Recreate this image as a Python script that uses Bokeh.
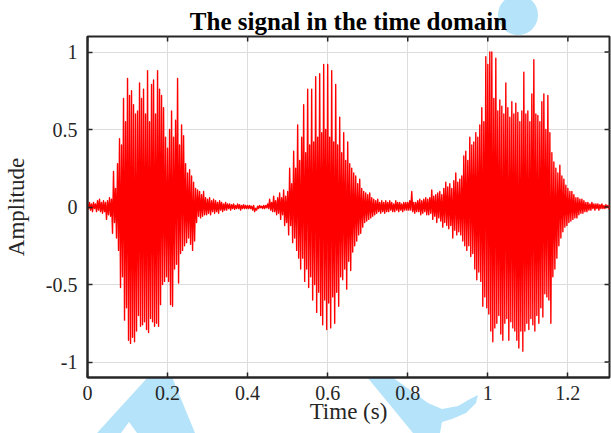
from urllib.parse import quote
from bokeh.plotting import figure
from bokeh.models import Range1d, FixedTicker, InlineStyleSheet
from bokeh.embed import file_html
from bokeh.resources import INLINE

# sample spacing (s) of the envelope readings
STEP = 0.005

# local maxima, one per STEP, starting at t = 0
UPPER = [
    0.02, 0.03, 0.02, 0.03, 0.02, 0.04, 0.05, 0.03, 0.04, 0.03,
    0.04, 0.06, 0.05, 0.23, 0.12, 0.28, 0.44, 0.40, 0.70, 0.55,
    0.83, 0.72, 0.75, 0.66, 0.60, 0.62, 0.80, 0.70, 0.76, 0.60,
    0.88, 0.55, 0.79, 0.82, 0.60, 0.88, 0.76, 0.72, 0.64, 0.45,
    0.38, 0.50, 0.62, 0.45, 0.56, 0.83, 0.40, 0.53, 0.46, 0.28,
    0.22, 0.24, 0.20, 0.16, 0.12, 0.11, 0.10, 0.08, 0.10, 0.06,
    0.05, 0.06, 0.04, 0.05, 0.04, 0.03, 0.04, 0.03, 0.02, 0.03,
    0.02, 0.02, 0.015, 0.02, 0.01, 0.02, 0.015, 0.01, 0.015, 0.01,
    0.01, 0.01, 0.005, 0.01, -0.01, 0.005, 0.01, 0.005, 0.01, 0.01,
    0.02, 0.05, 0.03, 0.07, 0.04, 0.06, 0.09, 0.06, 0.11, 0.07,
    0.10, 0.25, 0.15, 0.36, 0.25, 0.53, 0.30, 0.45, 0.66, 0.35,
    0.76, 0.40, 0.76, 0.42, 0.84, 0.45, 0.86, 0.48, 0.92, 0.50,
    0.92, 0.45, 0.88, 0.42, 0.79, 0.40, 0.58, 0.35, 0.48, 0.30,
    0.42, 0.28, 0.25, 0.22, 0.20, 0.15, 0.18, 0.12, 0.10, 0.09,
    0.08, 0.09, 0.06, 0.05, 0.04, 0.05, 0.03, 0.04, 0.03, 0.04,
    0.03, 0.04, 0.03, 0.02, 0.04, 0.03, 0.03, 0.02, 0.03, 0.03,
    0.03, 0.04, 0.10, 0.03, 0.03, 0.04, 0.05, 0.04, 0.05, 0.06,
    0.05, 0.06, 0.11, 0.07, 0.08, 0.09, 0.10, 0.08, 0.12, 0.16,
    0.13, 0.15, 0.12, 0.17, 0.22, 0.16, 0.18, 0.20, 0.33, 0.36,
    0.30, 0.45, 0.40, 0.42, 0.48, 0.45, 0.53, 0.64, 0.55, 0.97,
    0.92, 1.00, 1.00, 0.70, 0.96, 0.62, 0.69, 0.65, 0.60, 0.80,
    0.64, 0.58, 0.68, 0.60, 0.67, 0.61, 0.55, 0.62, 0.87, 0.60,
    0.62, 0.55, 0.73, 0.95, 0.60, 0.59, 0.55, 0.68, 0.73, 0.50,
    0.72, 0.48, 0.35, 0.29, 0.25, 0.22, 0.27, 0.20, 0.18, 0.14,
    0.12, 0.10, 0.10, 0.08, 0.06, 0.06, 0.05, 0.05, 0.04, 0.03,
    0.03, 0.02, 0.03, 0.02, 0.02, 0.02, 0.015, 0.02, 0.01, 0.015,
    0.01, 0.01,
]

# local minima, half a STEP after each maximum
LOWER = [
    -0.01, -0.02, -0.03, -0.01, -0.03, -0.02, -0.03, -0.04, -0.03, -0.08,
    -0.05, -0.06, -0.17, -0.10, -0.20, -0.28, -0.52, -0.45, -0.73, -0.65,
    -0.86, -0.88, -0.84, -0.87, -0.80, -0.70, -0.77, -0.76, -0.74, -0.79,
    -0.81, -0.72, -0.74, -0.77, -0.75, -0.77, -0.63, -0.50, -0.48, -0.45,
    -0.48, -0.63, -0.64, -0.40, -0.37, -0.49, -0.30, -0.28, -0.25, -0.23,
    -0.20, -0.24, -0.28, -0.22, -0.10, -0.06, -0.07, -0.06, -0.05, -0.05,
    -0.04, -0.05, -0.03, -0.04, -0.03, -0.04, -0.02, -0.03, -0.02, -0.02,
    -0.01, -0.02, -0.01, -0.015, -0.01, -0.01, -0.02, -0.01, -0.01, -0.01,
    -0.01, -0.01, -0.02, -0.03, -0.02, -0.01, -0.005, -0.01, -0.01, -0.005,
    -0.01, -0.02, -0.03, -0.03, -0.05, -0.04, -0.08, -0.05, -0.12, -0.10,
    -0.18, -0.12, -0.23, -0.20, -0.28, -0.33, -0.40, -0.33, -0.48, -0.40,
    -0.52, -0.45, -0.60, -0.50, -0.68, -0.55, -0.70, -0.76, -0.60, -0.79,
    -0.62, -0.78, -0.58, -0.75, -0.55, -0.64, -0.45, -0.47, -0.40, -0.53,
    -0.35, -0.41, -0.29, -0.25, -0.22, -0.18, -0.17, -0.13, -0.10, -0.09,
    -0.08, -0.07, -0.06, -0.05, -0.04, -0.03, -0.04, -0.03, -0.04, -0.03,
    -0.03, -0.02, -0.03, -0.03, -0.02, -0.03, -0.02, -0.03, -0.02, -0.02,
    -0.02, -0.02, -0.03, -0.04, -0.03, -0.03, -0.05, -0.04, -0.03, -0.05,
    -0.05, -0.04, -0.08, -0.06, -0.10, -0.07, -0.09, -0.13, -0.10, -0.12,
    -0.14, -0.12, -0.20, -0.15, -0.18, -0.16, -0.18, -0.22, -0.25, -0.28,
    -0.25, -0.32, -0.30, -0.40, -0.47, -0.42, -0.48, -0.64, -0.58, -0.65,
    -0.69, -0.80, -0.87, -0.78, -0.75, -0.70, -0.82, -0.86, -0.75, -0.72,
    -0.86, -0.74, -0.78, -0.80, -0.86, -0.91, -0.80, -0.93, -0.80, -0.75,
    -0.79, -0.72, -0.76, -0.80, -0.70, -0.75, -0.65, -0.71, -0.56, -0.58,
    -0.60, -0.75, -0.45, -0.40, -0.33, -0.25, -0.20, -0.16, -0.13, -0.12,
    -0.10, -0.09, -0.08, -0.07, -0.07, -0.05, -0.04, -0.04, -0.03, -0.03,
    -0.02, -0.02, -0.01, -0.02, -0.01, -0.02, -0.01, -0.01, -0.01, -0.005,
    -0.01, -0.005,
]

X_TICKS = [0, 0.2, 0.4, 0.6, 0.8, 1.0, 1.2]
X_LABELS = ["0", "0.2", "0.4", "0.6", "0.8", "1", "1.2"]
Y_TICKS = [-1, -0.5, 0, 0.5, 1]
Y_LABELS = ["-1", "-0.5", "0", "0.5", "1"]
X_MAX = 1.304
Y_LIM = 1.1

TITLE = "The signal in the time domain"
X_TITLE = "Time (s)"
Y_TITLE = "Amplitude"

# interleave maxima and minima into one trace
ts, ys = [], []
for i, (u, l) in enumerate(zip(UPPER, LOWER)):
    ts.append(i * STEP)
    ys.append(u)
    ts.append(i * STEP + STEP / 2)
    ys.append(l)

FONT = "Liberation Serif"
DARK = "#262626"
W, H = 611, 433
ML, MR, MT, MB = 82, 2, 36, 56

p = figure(width=W, height=H, output_backend="svg", toolbar_location=None,
           x_range=Range1d(0, X_MAX), y_range=Range1d(-Y_LIM, Y_LIM),
           min_border_left=ML, min_border_right=MR, min_border_top=MT,
           min_border_bottom=MB)

p.title.text = TITLE
p.title.align = "center"
p.title.text_font = FONT
p.title.text_font_size = "25px"
p.title.text_font_style = "bold"
p.title.text_color = "black"
p.title.standoff = 4
p.title.offset = 0

p.background_fill_color = "white"
p.border_fill_color = None
p.outline_line_color = DARK
p.outline_line_width = 2

def style_axis(ax, ticks, labels):
    ax.ticker = FixedTicker(ticks=ticks)
    ax.major_label_overrides = {t: s for t, s in zip(ticks, labels)}
    ax.major_tick_in = 5
    ax.major_tick_out = 0
    ax.minor_tick_line_color = None
    ax.major_tick_line_color = DARK
    ax.major_tick_line_width = 1.5
    ax.axis_line_color = DARK
    ax.axis_line_width = 2
    ax.major_label_text_font = FONT
    ax.major_label_text_font_size = "20px"
    ax.major_label_text_color = DARK
    ax.axis_label_text_font = FONT
    ax.axis_label_text_font_size = "23px"
    ax.axis_label_text_font_style = "normal"
    ax.axis_label_text_color = DARK

xa, ya = p.xaxis[0], p.yaxis[0]
style_axis(xa, X_TICKS, X_LABELS)
style_axis(ya, Y_TICKS, Y_LABELS)
xa.major_label_standoff = 8
ya.major_label_standoff = 10
xa.axis_label = X_TITLE
xa.axis_label_standoff = -4
ya.axis_label = Y_TITLE
ya.axis_label_standoff = 14

p.xgrid.ticker = FixedTicker(ticks=X_TICKS)
p.ygrid.ticker = FixedTicker(ticks=Y_TICKS)
p.grid.grid_line_color = "#dcdcdc"
p.grid.grid_line_width = 1

p.line(ts, ys, line_color="#ff0000", line_width=1.4, line_join="round")

# inward ticks on the top and right edges of the box (5 px long)
frame_w = W - ML - MR
frame_h = H - MT - MB
dx = 5 * X_MAX / frame_w
dy = 5 * 2 * Y_LIM / frame_h
p.segment(x0=X_TICKS, x1=X_TICKS, y0=[Y_LIM] * len(X_TICKS),
          y1=[Y_LIM - dy] * len(X_TICKS), line_color=DARK, line_width=1.5)
p.segment(x0=[X_MAX] * len(Y_TICKS), x1=[X_MAX - dx] * len(Y_TICKS),
          y0=Y_TICKS, y1=Y_TICKS, line_color=DARK, line_width=1.5)

# light-blue watermark behind the page (hidden by the white axes box)
wm_svg = (
    "<svg xmlns='http://www.w3.org/2000/svg' width='611' height='433'>"
    "<g fill='rgb(181,227,250)'>"
    "<circle cx='518' cy='15' r='20'/>"
    "<polygon points='156,360 165,360 172,377 195,433 137,433 129,422 121,433 97,433 148,377'/>"
    "<polygon points='356,360 380,360 392,377 428,403 442,409 458,406 470,399 478,395 "
    "476,403 466,413 452,419 442,422 440,433 413,433 367,377'/>"
    "</g></svg>"
)
css = (":host { background-image: url(\"data:image/svg+xml," + quote(wm_svg) + "\");"
       " background-repeat: no-repeat; background-position: 0 0; background-color: white; }")
p.stylesheets = [InlineStyleSheet(css=css)]

open("out.html", "w").write(file_html(p, INLINE))
